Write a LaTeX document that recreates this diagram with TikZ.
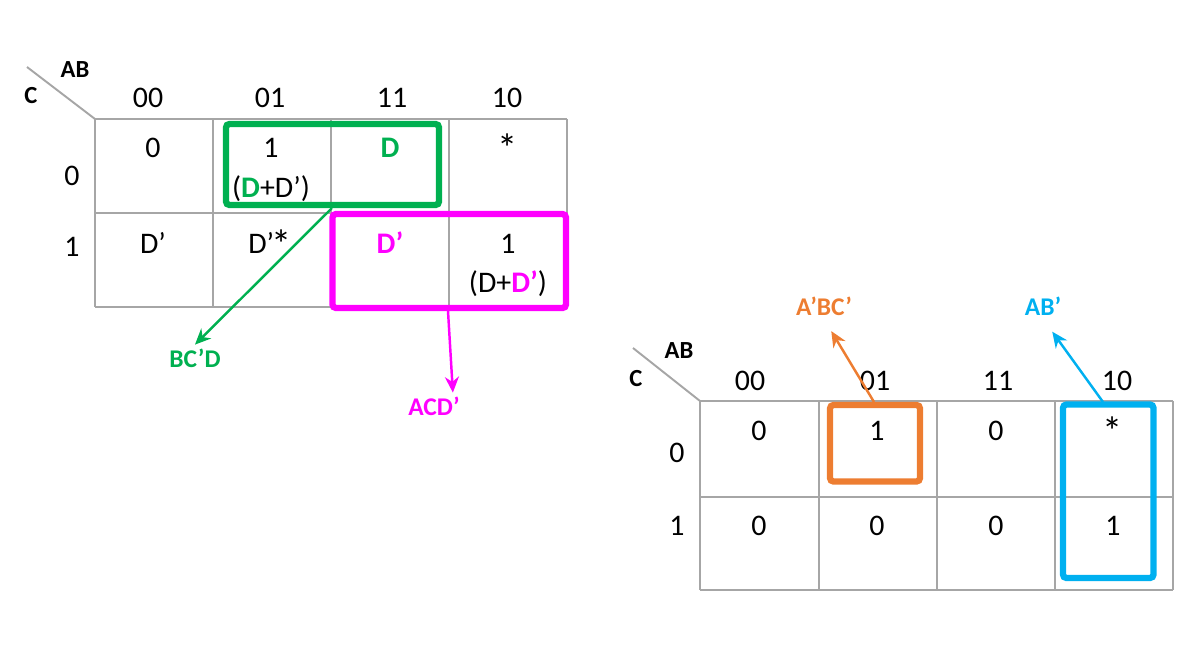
\documentclass[tikz,border=0pt]{standalone}
\usepackage{fontspec}
\setmainfont{Carlito}
\usetikzlibrary{arrows.meta}

\definecolor{kgreen}{RGB}{0,176,80}
\definecolor{kmag}{RGB}{255,0,255}
\definecolor{korange}{RGB}{237,125,49}
\definecolor{kblue}{RGB}{0,176,240}
\definecolor{kgrid}{RGB}{166,166,166}

\tikzset{
  cell/.style={font=\fontsize{17}{19}\selectfont, inner sep=0pt, anchor=base},
  star/.style={font=\fontsize{23}{25}\selectfont, inner sep=0pt, anchor=base},
  varname/.style={font=\fontsize{14}{16}\selectfont\bfseries, inner sep=0pt, anchor=base},
  term/.style={font=\fontsize{14.5}{16}\selectfont\bfseries, inner sep=2pt, anchor=base},
  gridline/.style={draw=kgrid, line width=1.1pt},
  grpbox/.style={line width=3.6pt, rounded corners=2pt},
  ptr/.style={line width=1.4pt, -{Stealth[length=9pt,width=8pt]}},
}

\begin{document}
\begin{tikzpicture}[x=0.02cm, y=-0.02cm]
        \useasboundingbox (0,0) rectangle (1204,660);

        % left map
        \foreach \x in {95,213,331,449,567}
          \draw[gridline] (\x,119) -- (\x,307);
        \foreach \y in {119,213,307}
          \draw[gridline] (95,\y) -- (567,\y);
        \draw[gridline] (27,67) -- (95,119);

        \node (LAB) [varname] at (75,77)  {AB};
        \node (LC)  [varname] at (31,103) {C};

        \node (Lh00) [cell] at (148,107) {00};
        \node (Lh01) [cell] at (270,107) {01};
        \node (Lh11) [cell] at (392,107) {11};
        \node (Lh10) [cell] at (507,107) {10};
        \node (Lr0)  [cell] at (72,185)  {0};
        \node (Lr1)  [cell] at (72,256)  {1};

        \node (L00a) [cell] at (153,157) {0};
        \node (L01a) [cell] at (271,157) {1};
        \node (L01b) [cell] at (271,197) {(\textbf{\color{kgreen}D}+D')};
        \node (L11a) [cell] at (390,157) {\textbf{\color{kgreen}D}};
        \node (L10a) [star] at (508,162) {*};

        \node (L00c) [cell] at (153,253) {D'};
        \node (L01c) [cell] at (270,253) {D'\kern-1.5pt{\fontsize{23}{25}\selectfont\raisebox{-3pt}{*}}};
        \node (L11c) [cell] at (390,253) {\textbf{\color{kmag}D'}};
        \node (L10c) [cell] at (508,253) {1};
        \node (L10d) [cell] at (508,292) {(D+\textbf{\color{kmag}D'})};

        \draw[grpbox, draw=kgreen] (226,124) rectangle (439,205);
        \draw[grpbox, draw=kmag] (332.5,214) rectangle (566,308);

        \coordinate (gfoot) at (332,208);
        \coordinate (mfoot) at (448,311);
        \node (bcd) [term, text=kgreen] at (195,367) {BC'D};
        \node (acd) [term, text=kmag]   at (434,415) {ACD'};
        \draw[ptr, kgreen] (gfoot) -- (bcd.north);
        \draw[ptr, kmag] (mfoot) -- (acd.35);

        % right map
        \foreach \x in {700,819,937,1055,1173}
          \draw[gridline] (\x,401) -- (\x,590);
        \foreach \y in {401,497,590}
          \draw[gridline] (700,\y) -- (1173,\y);
        \draw[gridline] (633,348) -- (700,401);

        \node (RAB) [varname] at (679,358) {AB};
        \node (RC)  [varname] at (636,386) {C};

        \node (Rh00) [cell] at (750,390)  {00};
        \node (Rh01) [cell] at (875,390)  {01};
        \node (Rh11) [cell] at (998,390)  {11};
        \node (Rh10) [cell] at (1117,390) {10};
        \node (Rr0)  [cell] at (677,462)  {0};
        \node (Rr1)  [cell] at (677,535)  {1};

        \node (R00a) [cell] at (759,440)  {0};
        \node (R01a) [cell] at (877,440)  {1};
        \node (R11a) [cell] at (996,440)  {0};
        \node (R10a) [star] at (1113,445) {*};
        \node (R00c) [cell] at (759,535)  {0};
        \node (R01c) [cell] at (877,535)  {0};
        \node (R11c) [cell] at (996,535)  {0};
        \node (R10c) [cell] at (1113,535) {1};

        \draw[grpbox, draw=korange] (830,405) rectangle (920,481.5);
        \draw[grpbox, draw=kblue] (1063,404.5) rectangle (1153.5,578);

        \coordinate (ofoot) at (874,402);
        \coordinate (bfoot) at (1103,402);
        \node (abc) [term, text=korange] at (824,315)  {A'BC'};
        \node (ab)  [term, text=kblue]   at (1043,315) {AB'};
        \draw[ptr, korange, shorten >=8pt] (ofoot) -- (abc.south);
        \draw[ptr, kblue, shorten >=9pt] (bfoot) -- (ab.south);
\end{tikzpicture}
\end{document}
